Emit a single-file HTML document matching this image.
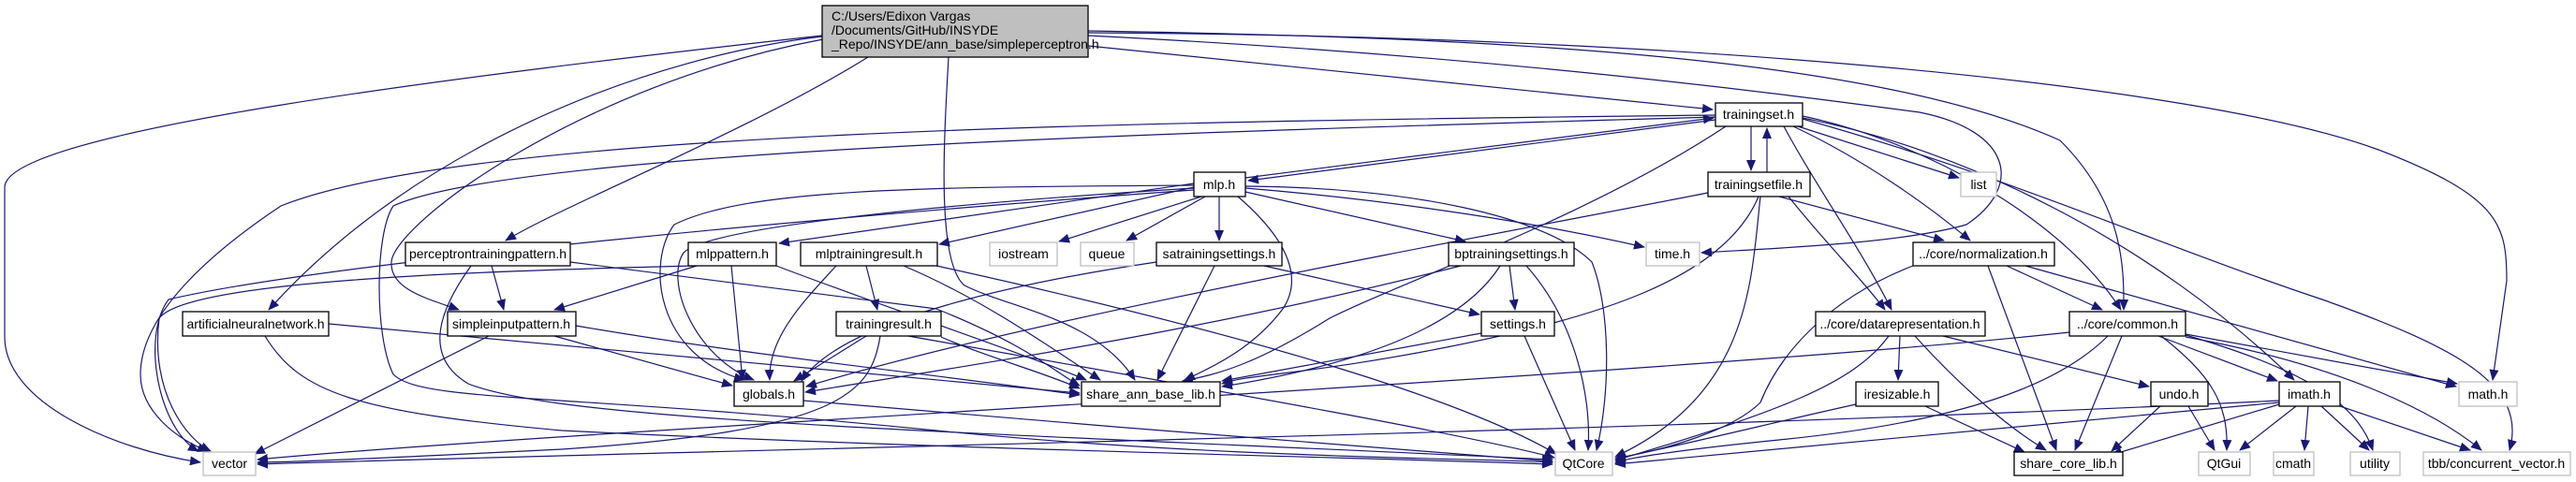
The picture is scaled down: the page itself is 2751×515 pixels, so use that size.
<!DOCTYPE html>
<html><head><meta charset="utf-8"><style>
html,body{margin:0;padding:0;background:#fff;}
svg{display:block;}
text{font-family:"Liberation Sans",sans-serif;font-size:14px;fill:#000;}
.n{fill:#fff;stroke:#000;stroke-width:1.3;}
.g{fill:#fff;stroke:#bfbfbf;stroke-width:1.3;}
path.e{fill:none;stroke:#191970;stroke-width:1.2;}
</style></head><body>
<svg width="2751" height="515" viewBox="0 0 2751 515" xmlns="http://www.w3.org/2000/svg">
<defs><marker id="a" markerWidth="12" markerHeight="10" refX="11" refY="5" orient="auto" markerUnits="userSpaceOnUse"><path d="M0,0 L12,5 L0,10 z" fill="#191970"/></marker></defs>
<g marker-end="url(#a)">
<path class="e" d="M878,38 C500,80 5,140 5,200 L5,360 C5,430 120,480 214,494"/>
<path class="e" d="M878,39 C700,60 450,150 287,331"/>
<path class="e" d="M879,42 C620,90 420,240 418,280 C416,310 460,320 490,331"/>
<path class="e" d="M927,61 C800,140 600,220 540,257"/>
<path class="e" d="M1013,61 C1008,150 1000,280 1030,305 C1080,330 1170,340 1212,406"/>
<path class="e" d="M1162,49 L1829,117"/>
<path class="e" d="M1162,33 C1600,40 2000,60 2200,150 C2270,220 2268,290 2268,331"/>
<path class="e" d="M1162,35 C1800,38 2350,90 2540,160 C2670,210 2677,240 2677,300 L2662,406"/>
<path class="e" d="M1162,38 C1600,60 1900,100 2050,120 C2150,140 2160,200 2100,240 C2030,260 1900,265 1817,270"/>
<path class="e" d="M1832,128 L1333,193"/>
<path class="e" d="M1330,190 L1830,126"/>
<path class="e" d="M1870,135 L1870,182"/>
<path class="e" d="M1887,184 L1887,137"/>
<path class="e" d="M1920,135 L2092,190"/>
<path class="e" d="M1915,135 C1990,170 2060,220 2104,257"/>
<path class="e" d="M1905,135 C1940,200 1990,270 2020,331"/>
<path class="e" d="M1925,124 C2050,150 2200,230 2265,331"/>
<path class="e" d="M1925,126 C2100,160 2300,260 2450,406"/>
<path class="e" d="M1925,127 C2150,190 2300,260 2480,320 C2620,370 2700,410 2680,481"/>
<path class="e" d="M1843,135 C1700,230 1500,300 1420,340 C1340,390 1300,400 1263,407"/>
<path class="e" d="M1832,123 C1200,130 500,140 300,220 C240,260 150,330 150,400 C150,440 190,470 222,482"/>
<path class="e" d="M1832,125 C1300,140 550,160 420,220 C400,250 400,360 420,400 C450,430 600,420 1000,460 C1300,490 1600,490 1658,494"/>
<path class="e" d="M1275,198 C1000,200 800,200 720,240 C690,280 700,380 795,406"/>
<path class="e" d="M1275,201 C1050,215 760,240 730,270 C710,300 740,380 805,406"/>
<path class="e" d="M1283,210 L1131,258"/>
<path class="e" d="M1287,210 L1203,257"/>
<path class="e" d="M1302,210 L1302,257"/>
<path class="e" d="M1330,205 L1565,258"/>
<path class="e" d="M1330,201 C1500,215 1650,240 1756,264"/>
<path class="e" d="M1322,210 C1380,260 1390,300 1370,330 C1340,370 1300,390 1265,406"/>
<path class="e" d="M1330,199 C1500,200 1650,230 1700,280 C1720,330 1720,420 1705,481"/>
<path class="e" d="M1275,196 L832,260"/>
<path class="e" d="M1275,200 L1003,261"/>
<path class="e" d="M1275,203 C900,230 350,280 180,320 C150,360 170,460 212,482"/>
<path class="e" d="M1824,206 C1600,250 1100,340 861,413"/>
<path class="e" d="M1878,210 C1840,300 1700,340 1550,370 C1400,400 1330,400 1305,410"/>
<path class="e" d="M1880,210 C1870,300 1870,420 1725,488"/>
<path class="e" d="M1900,210 L2076,257"/>
<path class="e" d="M1910,210 C1950,260 1990,300 2013,331"/>
<path class="e" d="M525,284 L538,331"/>
<path class="e" d="M609,280 L1000,330 C1100,370 1130,400 1153,412"/>
<path class="e" d="M503,284 C470,330 450,380 500,410 C600,450 1000,460 1658,491"/>
<path class="e" d="M744,284 L592,331"/>
<path class="e" d="M781,284 L793,406"/>
<path class="e" d="M829,284 C950,330 1100,380 1160,406"/>
<path class="e" d="M740,284 C500,290 200,300 170,340 C160,420 200,470 225,482"/>
<path class="e" d="M893,284 C860,320 820,360 822,406"/>
<path class="e" d="M925,284 L937,331"/>
<path class="e" d="M965,284 C1050,320 1120,370 1175,406"/>
<path class="e" d="M1000,284 C1300,350 1550,420 1662,485"/>
<path class="e" d="M351,346 L1153,420"/>
<path class="e" d="M283,359 C320,420 380,440 600,460 C1000,480 1500,490 1658,496"/>
<path class="e" d="M592,359 L782,412"/>
<path class="e" d="M615,348 C800,380 1000,400 1153,422"/>
<path class="e" d="M522,359 L272,485"/>
<path class="e" d="M925,359 L848,407"/>
<path class="e" d="M940,359 C930,420 900,460 600,480 C400,490 300,494 275,494"/>
<path class="e" d="M970,359 C1200,400 1550,460 1660,489"/>
<path class="e" d="M1005,360 C1050,380 1120,400 1153,415"/>
<path class="e" d="M1297,284 L1236,406"/>
<path class="e" d="M1235,280 C1100,300 900,340 856,407"/>
<path class="e" d="M1350,284 L1580,336"/>
<path class="e" d="M1612,284 L1618,331"/>
<path class="e" d="M1560,284 C1300,350 1100,380 860,419"/>
<path class="e" d="M1602,284 C1560,350 1450,390 1305,413"/>
<path class="e" d="M1630,284 C1680,340 1700,420 1696,481"/>
<path class="e" d="M1582,356 L1305,407"/>
<path class="e" d="M1628,359 L1682,481"/>
<path class="e" d="M858,428 C1100,450 1500,480 1658,493"/>
<path class="e" d="M2143,284 L2245,331"/>
<path class="e" d="M2123,284 L2196,481"/>
<path class="e" d="M2163,284 L2623,413"/>
<path class="e" d="M2043,284 C1950,320 1900,380 1880,430 C1850,460 1780,480 1725,490"/>
<path class="e" d="M2029,359 L2027,406"/>
<path class="e" d="M2075,359 L2295,413"/>
<path class="e" d="M2045,359 C2100,420 2150,460 2185,481"/>
<path class="e" d="M2017,359 C1980,410 1900,440 1725,492"/>
<path class="e" d="M2210,355 C1800,400 600,460 275,491"/>
<path class="e" d="M2266,359 L2216,481"/>
<path class="e" d="M2251,359 C2200,410 2100,450 1900,470 C1800,480 1730,490 1725,495"/>
<path class="e" d="M2305,359 L2432,407"/>
<path class="e" d="M2334,357 L2624,410"/>
<path class="e" d="M2308,359 C2360,400 2380,430 2378,481"/>
<path class="e" d="M2334,358 C2480,400 2520,440 2534,481"/>
<path class="e" d="M2334,360 C2500,390 2600,440 2650,481"/>
<path class="e" d="M2056,434 L2162,483"/>
<path class="e" d="M1982,432 C1900,450 1800,475 1725,490"/>
<path class="e" d="M2307,434 L2255,482"/>
<path class="e" d="M2337,434 L2365,481"/>
<path class="e" d="M2434,432 L2255,486"/>
<path class="e" d="M2452,434 L2392,481"/>
<path class="e" d="M2465,434 L2461,481"/>
<path class="e" d="M2479,434 L2530,481"/>
<path class="e" d="M2499,434 L2638,481"/>
<path class="e" d="M2434,428 C1800,460 800,480 275,496"/>
<path class="e" d="M2434,430 C2100,460 1900,480 1725,496"/>
</g>
<!-- nodes -->
<rect x="878" y="6" width="284" height="55" fill="#bfbfbf" stroke="#000" stroke-width="1.3"/>
<text x="888" y="22">C:/Users/Edixon Vargas</text>
<text x="888" y="37">/Documents/GitHub/INSYDE</text>
<text x="888" y="52">_Repo/INSYDE/ann_base/simpleperceptron.h</text>
<g text-anchor="middle">
<rect class="n" x="1832" y="110" width="93" height="25"/><text x="1878" y="127">trainingset.h</text>
<rect class="n" x="1275" y="184" width="55" height="26"/><text x="1302" y="202">mlp.h</text>
<rect class="n" x="1824" y="184" width="109" height="26"/><text x="1878" y="202">trainingsetfile.h</text>
<rect class="g" x="2094" y="184" width="38" height="26"/><text x="2113" y="202">list</text>
<rect class="n" x="433" y="259" width="176" height="25"/><text x="521" y="276">perceptrontrainingpattern.h</text>
<rect class="n" x="735" y="259" width="94" height="25"/><text x="782" y="276">mlppattern.h</text>
<rect class="n" x="855" y="259" width="146" height="25"/><text x="928" y="276">mlptrainingresult.h</text>
<rect class="g" x="1057" y="259" width="72" height="25"/><text x="1093" y="276">iostream</text>
<rect class="g" x="1154" y="259" width="57" height="25"/><text x="1182" y="276">queue</text>
<rect class="n" x="1235" y="259" width="134" height="25"/><text x="1302" y="276">satrainingsettings.h</text>
<rect class="n" x="1547" y="259" width="134" height="25"/><text x="1614" y="276">bptrainingsettings.h</text>
<rect class="g" x="1758" y="259" width="57" height="25"/><text x="1786" y="276">time.h</text>
<rect class="n" x="2043" y="259" width="151" height="25"/><text x="2118" y="276">../core/normalization.h</text>
<rect class="n" x="195" y="333" width="156" height="26"/><text x="273" y="351">artificialneuralnetwork.h</text>
<rect class="n" x="478" y="333" width="137" height="26"/><text x="546" y="351">simpleinputpattern.h</text>
<rect class="n" x="893" y="333" width="112" height="26"/><text x="949" y="351">trainingresult.h</text>
<rect class="n" x="1582" y="333" width="78" height="26"/><text x="1621" y="351">settings.h</text>
<rect class="n" x="1939" y="333" width="181" height="26"/><text x="2029" y="351">../core/datarepresentation.h</text>
<rect class="n" x="2210" y="333" width="124" height="26"/><text x="2272" y="351">../core/common.h</text>
<rect class="n" x="784" y="408" width="74" height="26"/><text x="821" y="426">globals.h</text>
<rect class="n" x="1155" y="408" width="148" height="26"/><text x="1229" y="426">share_ann_base_lib.h</text>
<rect class="n" x="1982" y="408" width="88" height="26"/><text x="2026" y="426">iresizable.h</text>
<rect class="n" x="2297" y="408" width="61" height="26"/><text x="2327" y="426">undo.h</text>
<rect class="n" x="2434" y="408" width="65" height="26"/><text x="2466" y="426">imath.h</text>
<rect class="g" x="2626" y="408" width="62" height="26"/><text x="2657" y="426">math.h</text>
<rect class="g" x="217" y="483" width="56" height="25"/><text x="245" y="500">vector</text>
<rect class="g" x="1661" y="483" width="61" height="25"/><text x="1691" y="500">QtCore</text>
<rect class="n" x="2151" y="483" width="116" height="25"/><text x="2209" y="500">share_core_lib.h</text>
<rect class="g" x="2348" y="483" width="55" height="25"/><text x="2375" y="500">QtGui</text>
<rect class="g" x="2428" y="483" width="43" height="25"/><text x="2449" y="500">cmath</text>
<rect class="g" x="2510" y="483" width="53" height="25"/><text x="2536" y="500">utility</text>
<rect class="g" x="2588" y="483" width="157" height="25"/><text x="2666" y="500">tbb/concurrent_vector.h</text>
</g>
</svg>
</body></html>
